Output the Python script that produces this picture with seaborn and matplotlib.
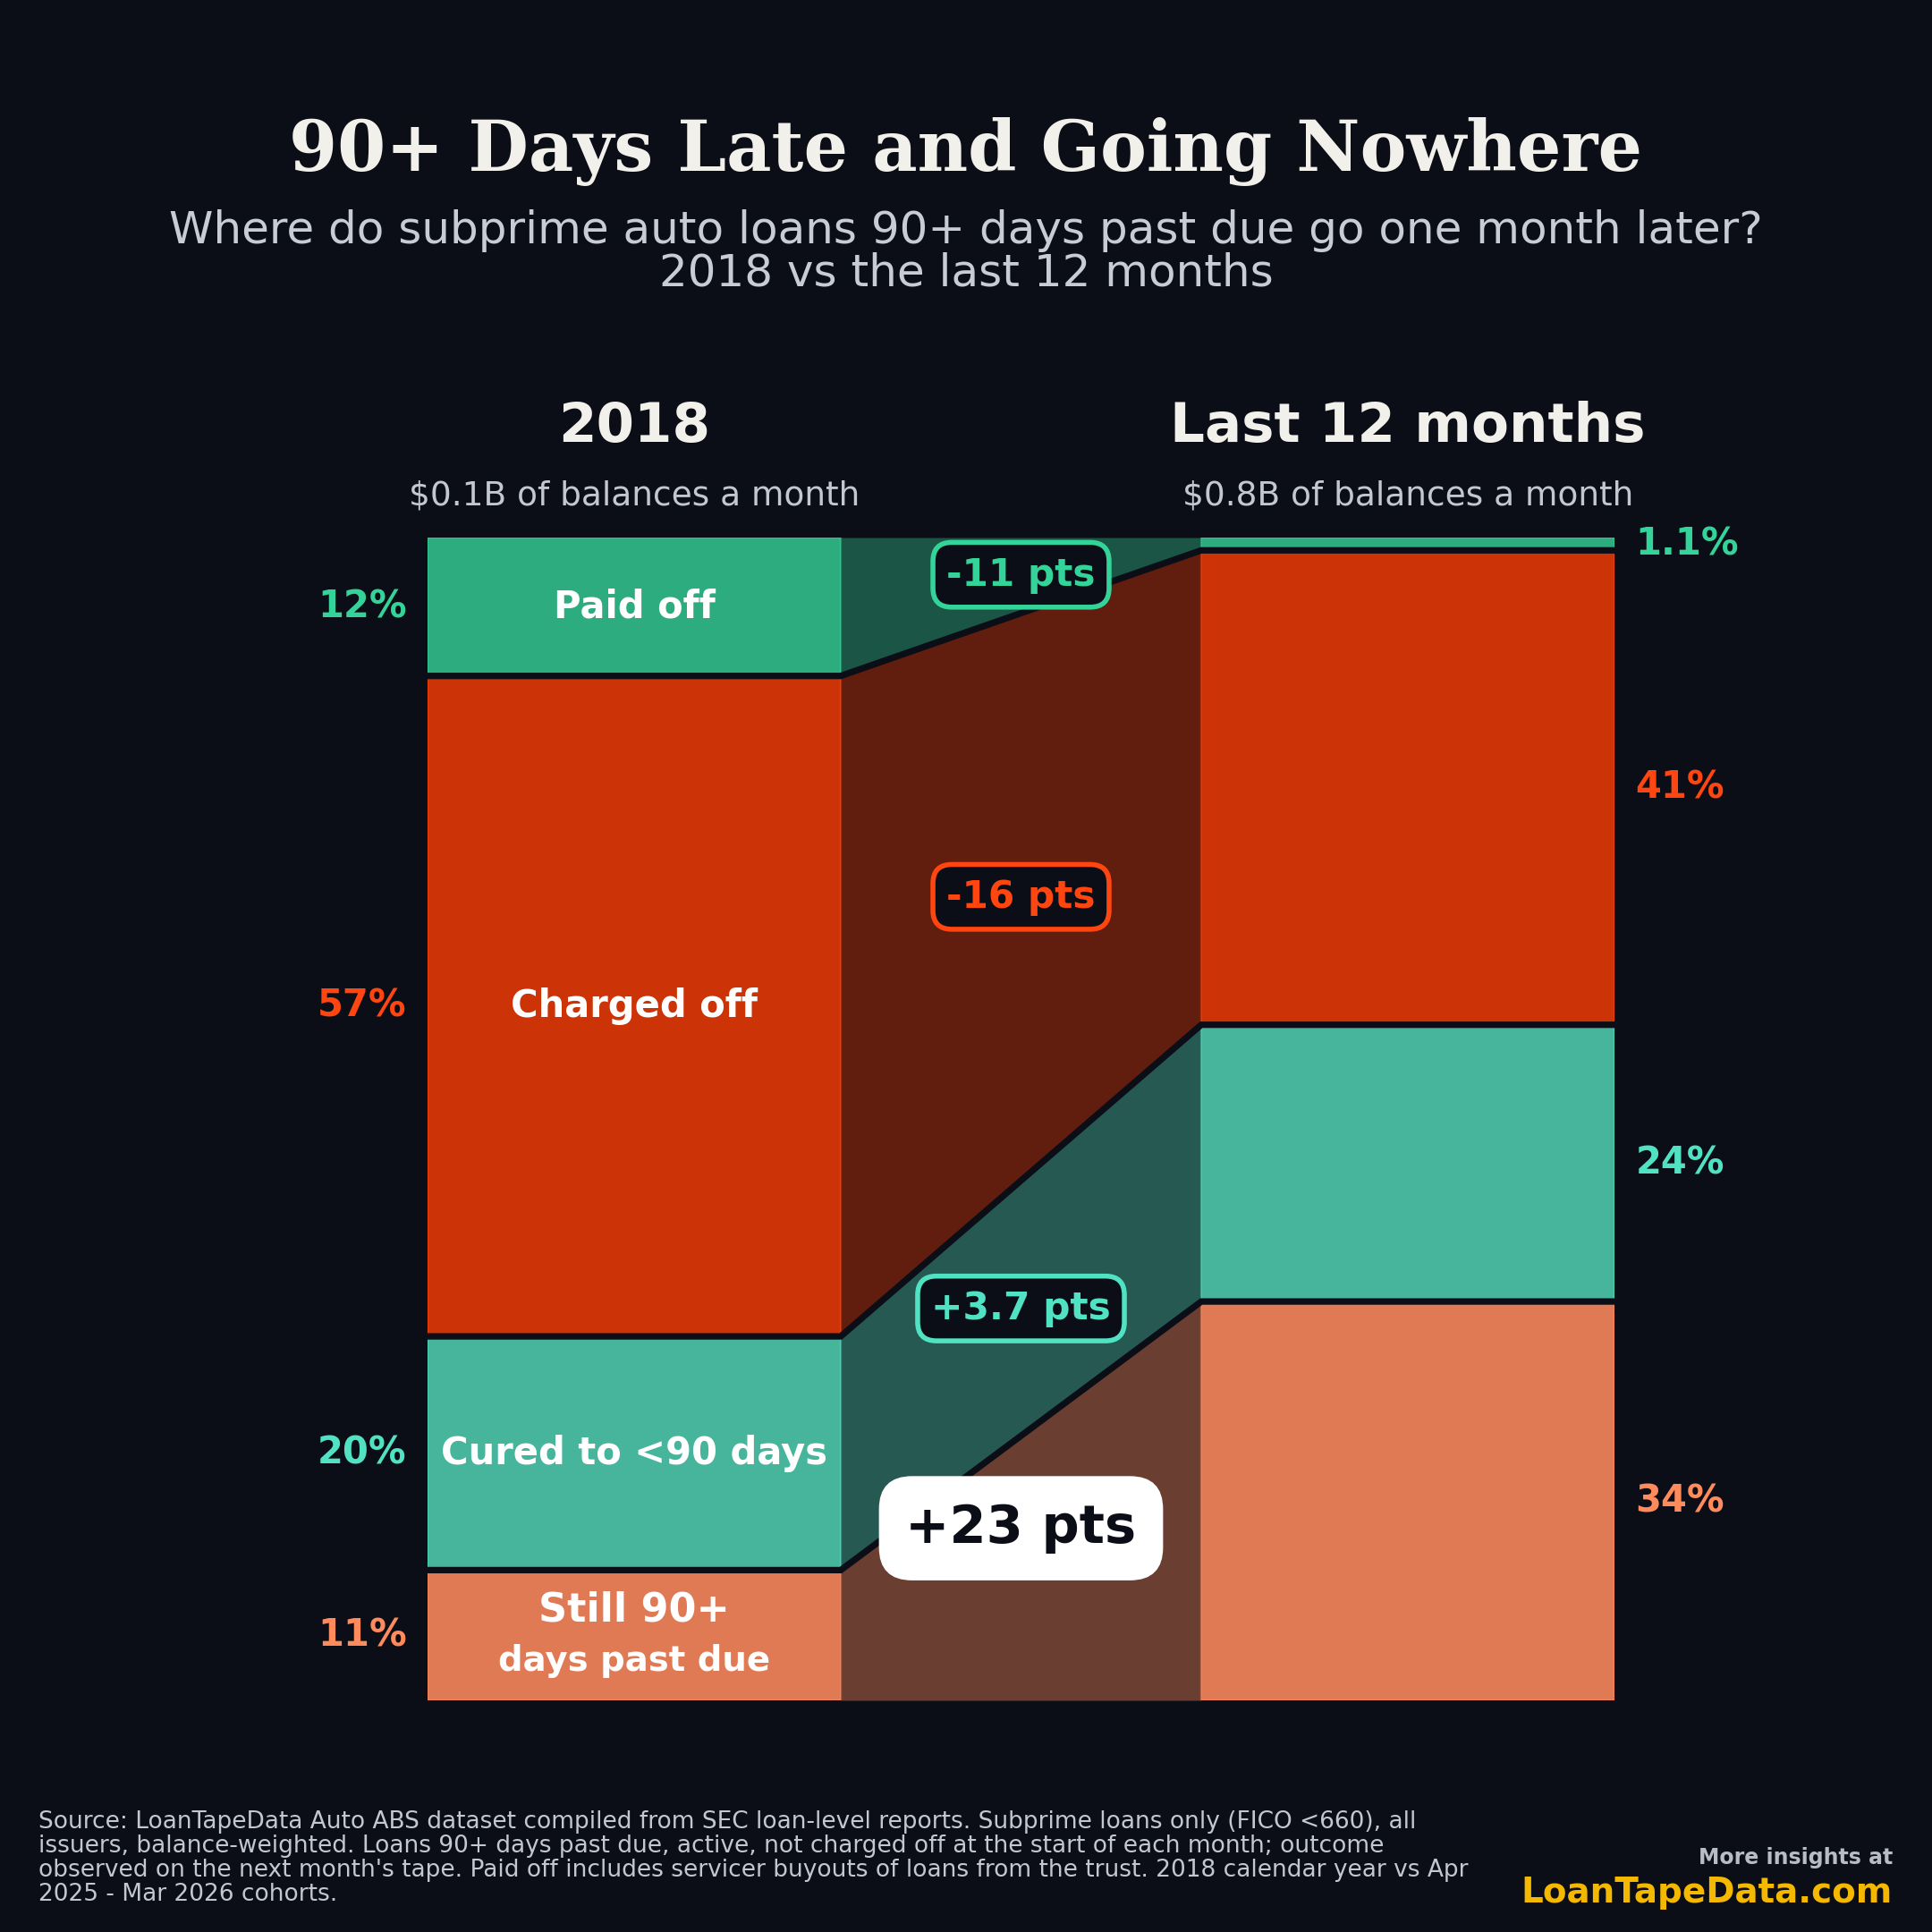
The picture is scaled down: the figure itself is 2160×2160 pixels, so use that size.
import numpy as np
import pandas as pd
import matplotlib.pyplot as plt
import seaborn as sns

# data (share of 90+ dpd balances, next-month outcome)
periods = ["2018", "Last 12 months"]
outcomes = ["Paid off", "Charged off", "Cured to <90 days", "Still 90+"]
share_2018 = [11.9, 56.8, 20.1, 11.2]
share_last12 = [1.1, 40.8, 23.8, 34.3]
pct_labels_2018 = ["12%", "57%", "20%", "11%"]
pct_labels_last12 = ["1.1%", "41%", "24%", "34%"]
delta_labels = ["-11 pts", "-16 pts", "+3.7 pts", "+23 pts"]
balances = ["$0.1B of balances a month", "$0.8B of balances a month"]

BG = "#0b0e16"
fill_colors = ["#2dac7f", "#cc3306", "#46b59c", "#e07a54"]
text_colors = ["#34d399", "#ff4510", "#50e2c2", "#ff8a5b"]

sns.set_theme(style="dark", rc={"axes.facecolor": BG, "figure.facecolor": BG})
plt.rcParams["font.family"] = ["DejaVu Sans"]

df = pd.DataFrame({
    "period": np.repeat(periods, len(outcomes)),
    "outcome": outcomes * 2,
    "share": share_2018 + share_last12,
})

fig = plt.figure(figsize=(10.8, 10.8), dpi=200)
ax = fig.add_axes([478 / 2160, 1 - 1901 / 2160, 1327 / 2160, 1300 / 2160])

half = 0.267
sns.histplot(
    data=df, x="period", weights="share", hue="outcome",
    hue_order=outcomes, palette=dict(zip(outcomes, fill_colors)),
    multiple="stack", discrete=True, shrink=2 * half,
    alpha=1, linewidth=0, legend=False, ax=ax,
)
ax.set_xlim(-half, 1 + half)
ax.set_ylim(0, 100)
ax.axis("off")

# stack boundaries, top to bottom
top_l = 100 - np.concatenate([[0], np.cumsum(share_2018)])
top_r = 100 - np.concatenate([[0], np.cumsum(share_last12)])

# thin lighter outline on each segment
for i in range(4):
    for xc, tops in [(0, top_l), (1, top_r)]:
        ax.add_patch(plt.Rectangle((xc - half, tops[i + 1]), 2 * half,
                                   tops[i] - tops[i + 1], fill=False,
                                   edgecolor=text_colors[i], lw=0.8, alpha=0.6))

# ribbons between the bars
xr = np.array([half, 1 - half])
for i in range(4):
    ax.fill_between(xr, [top_l[i + 1], top_r[i + 1]], [top_l[i], top_r[i]],
                    color=fill_colors[i], alpha=0.45, lw=0)

# dark separators
for k in range(1, 4):
    ax.plot([-half, half, 1 - half, 1 + half],
            [top_l[k], top_l[k], top_r[k], top_r[k]],
            color=BG, lw=2.6, solid_capstyle="butt", solid_joinstyle="miter")

# segment names on the 2018 bar
mid_l = (top_l[:-1] + top_l[1:]) / 2
mid_r = (top_r[:-1] + top_r[1:]) / 2
for i, name in enumerate(outcomes[:3]):
    ax.text(0, mid_l[i], name, ha="center", va="center", color="white",
            fontsize=15, fontweight="bold")
ax.text(0, mid_l[3] + 2.2, "Still 90+", ha="center", va="center",
        color="white", fontsize=16, fontweight="bold")
ax.text(0, mid_l[3] - 2.2, "days past due", ha="center", va="center",
        color="white", fontsize=13.9, fontweight="bold")

# percentage labels
for i in range(4):
    ax.text(-half - 0.027, mid_l[i], pct_labels_2018[i], ha="right",
            va="center", color=text_colors[i], fontsize=15, fontweight="bold")
    ax.text(1 + half + 0.027, mid_r[i], pct_labels_last12[i], ha="left",
            va="center", color=text_colors[i], fontsize=15, fontweight="bold")

# delta badges
delta_y = [96.8, 69.1, 33.7, 14.8]
for i in range(3):
    ax.text(0.5, delta_y[i], delta_labels[i], ha="center", va="center",
            color=text_colors[i], fontsize=15.2, fontweight="bold",
            bbox=dict(boxstyle="round,pad=0.36,rounding_size=0.5",
                      facecolor=BG, edgecolor=text_colors[i], lw=2))
ax.text(0.5, delta_y[3], delta_labels[3], ha="center", va="center",
        color=BG, fontsize=21.3, fontweight="bold",
        bbox=dict(boxstyle="round,pad=0.48,rounding_size=0.6",
                  facecolor="white", edgecolor="white", lw=1))

# column headers
for xc, name, bal in zip([0, 1], periods, balances):
    ax.text(xc, 109.5, name, ha="center", va="center", color="#f2f0ea",
            fontsize=22, fontweight="bold", clip_on=False)
    ax.text(xc, 103.6, bal, ha="center", va="center", color="#c3c7d0",
            fontsize=13.5, clip_on=False)

# titles
fig.text(0.5, 1 - 169 / 2160, "90+ Days Late and Going Nowhere", ha="center",
         va="center", color="#f2f0ea", fontsize=28, fontweight="bold",
         family="DejaVu Serif")
fig.text(0.5, 1 - 258 / 2160, "Where do subprime auto loans 90+ days past due go one month later?",
         ha="center", va="center", color="#c8ccd6", fontsize=18)
fig.text(0.5, 1 - 306 / 2160, "2018 vs the last 12 months",
         ha="center", va="center", color="#c8ccd6", fontsize=18)

# footer
source = ("Source: LoanTapeData Auto ABS dataset compiled from SEC loan-level reports. Subprime loans only (FICO <660), all\n"
          "issuers, balance-weighted. Loans 90+ days past due, active, not charged off at the start of each month; outcome\n"
          "observed on the next month's tape. Paid off includes servicer buyouts of loans from the trust. 2018 calendar year vs Apr\n"
          "2025 - Mar 2026 cohorts.")
fig.text(43 / 2160, 1 - 2131 / 2160, source, ha="left", va="bottom",
         color="#c3c7d0", fontsize=9.5, linespacing=1.05)
fig.text(2116 / 2160, 1 - 2077 / 2160, "More insights at", ha="right",
         va="center", color="#b8bcc4", fontsize=8.5, fontweight="bold")
fig.text(2116 / 2160, 1 - 2116 / 2160, "LoanTapeData.com", ha="right",
         va="center", color="#f5b800", fontsize=14, fontweight="bold")

fig.savefig("out.png", dpi=200, facecolor=BG)
